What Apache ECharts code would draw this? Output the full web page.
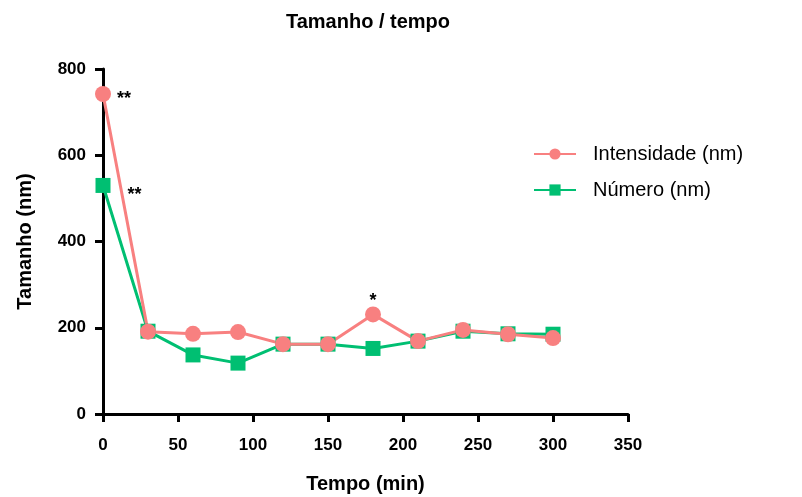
<!DOCTYPE html>
<html>
<head>
<meta charset="utf-8">
<script src="https://cdn.jsdelivr.net/npm/echarts@6/dist/echarts.min.js"></script>
<style>
  html, body { margin: 0; padding: 0; background: #fff; }
  #chart { width: 802px; height: 497px; }
</style>
</head>
<body>
<div id="chart"></div>
<script>
const tempo = [0, 30, 60, 90, 120, 150, 180, 210, 240, 270, 300];
const intensidade = [742, 191, 186, 190, 162, 162, 231, 169, 195, 185, 176];
const numero = [530, 192, 137, 118, 162, 162, 152, 169, 192, 186, 185];
// marcas de significância: índice do ponto -> texto
const sigIntensidade = { 0: "**", 6: "*" };
const sigNumero = { 0: "**" };

const font = "Liberation Sans, Arial, sans-serif";
const corInt = "#F88080";
const corNum = "#00BF72";

const chart = echarts.init(document.getElementById("chart"));

const intData = tempo.map((t, i) => {
  const item = { value: [t, intensidade[i]] };
  if (sigIntensidade[i]) {
    item.label = {
      show: true,
      formatter: sigIntensidade[i],
      position: i === 0 ? "right" : "top",
      distance: i === 0 ? 6 : 2,
      offset: i === 0 ? [0, 5] : [0, 6],
      color: "#000",
      fontSize: 18,
      fontWeight: "bold",
      fontFamily: font,
    };
  }
  return item;
});

const numData = tempo.map((t, i) => {
  const item = { value: [t, numero[i]] };
  if (sigNumero[i]) {
    item.label = {
      show: true,
      formatter: sigNumero[i],
      position: "right",
      distance: 17,
      offset: [0, 10],
      color: "#000",
      fontSize: 18,
      fontWeight: "bold",
      fontFamily: font,
    };
  }
  return item;
});

chart.setOption({
  animation: false,
  title: {
    text: "Tamanho / tempo",
    left: 363,
    textAlign: "center",
    top: 7,
    textStyle: { fontFamily: font, fontSize: 20, fontWeight: "bold", color: "#000" },
  },
  legend: {
    orient: "vertical",
    left: 528,
    top: 139,
    itemWidth: 42,
    itemHeight: 14,
    itemGap: 16,
    data: ["Intensidade (nm)", "Número (nm)"],
    textStyle: { fontFamily: font, fontSize: 20, color: "#000", padding: [0, 0, 0, 12] },
  },
  grid: { left: 103, right: 174, top: 69, bottom: 83, containLabel: false, outerBoundsMode: "none" },
  xAxis: {
    type: "value",
    min: 0,
    max: 350,
    interval: 50,
    name: "Tempo (min)",
    nameLocation: "middle",
    nameGap: 60,
    nameTextStyle: { fontFamily: font, fontSize: 20, fontWeight: "bold", color: "#000" },
    axisLine: { show: true, onZero: false, lineStyle: { color: "#000", width: 3 } },
    axisTick: { show: true, length: 8, lineStyle: { color: "#000", width: 3 } },
    axisLabel: { fontFamily: font, fontSize: 17, fontWeight: "bold", color: "#000", margin: 23 },
    splitLine: { show: false },
  },
  yAxis: {
    type: "value",
    min: 0,
    max: 800,
    interval: 200,
    name: "Tamanho (nm)",
    nameLocation: "middle",
    nameGap: 68,
    nameTextStyle: { fontFamily: font, fontSize: 20, fontWeight: "bold", color: "#000" },
    axisLine: { show: true, lineStyle: { color: "#000", width: 3 } },
    axisTick: { show: true, length: 8, lineStyle: { color: "#000", width: 3 } },
    axisLabel: { fontFamily: font, fontSize: 17, fontWeight: "bold", color: "#000", margin: 17 },
    splitLine: { show: false },
  },
  series: [
    {
      name: "Número (nm)",
      type: "line",
      data: numData,
      symbol: "rect",
      symbolSize: 15,
      itemStyle: { color: corNum },
      lineStyle: { color: corNum, width: 3 },
    },
    {
      name: "Intensidade (nm)",
      type: "line",
      data: intData,
      symbol: "circle",
      symbolSize: 16,
      itemStyle: { color: corInt },
      lineStyle: { color: corInt, width: 3 },
    },
  ],
});
</script>
</body>
</html>
